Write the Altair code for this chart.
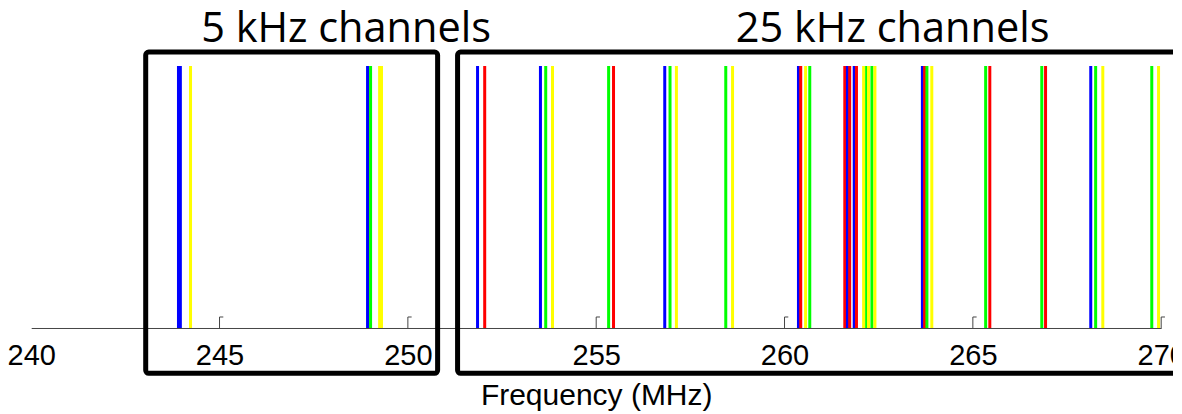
import altair as alt
import pandas as pd

# Channel frequencies (MHz) and their colour series
freqs = [243.91, 243.96, 244.23, 248.93, 249.01, 249.25, 249.30,
         251.85, 252.04,
         253.52, 253.66, 253.84,
         255.33, 255.46,
         256.82, 256.96, 257.13,
         258.44, 258.62,
         260.37, 260.43, 260.56, 260.67,
         261.60, 261.67, 261.73, 261.85, 261.91, 262.10, 262.18, 262.23, 262.32, 262.40,
         263.66, 263.72, 263.78, 263.91,
         265.34, 265.45,
         266.83, 266.93,
         268.13, 268.26, 268.45,
         269.75, 269.93]
series = ["blue", "blue", "yellow", "blue", "green", "yellow", "yellow",
          "blue", "red",
          "blue", "green", "yellow",
          "green", "red",
          "blue", "green", "yellow",
          "green", "yellow",
          "blue", "red", "yellow", "green",
          "red", "blue", "red", "blue", "red", "yellow", "green", "yellow", "green", "yellow",
          "blue", "red", "green", "yellow",
          "green", "red",
          "green", "red",
          "blue", "green", "yellow",
          "green", "yellow"]

tick_values = [240, 245, 250, 255, 260, 265, 270]
tick_marks = [245, 250, 255, 260, 265, 270]

# Channel groups (boxes) and their titles
group_names = ["5 kHz channels", "25 kHz channels"]
group_start = [243.04, 251.32]
group_end = [250.79, 272.0]
title_x = [248.36, 262.87]

series_domain = ["blue", "red", "green", "yellow"]
series_range = ["#0000FF", "#FF0000", "#00FF00", "#FFFF00"]

lines_df = pd.DataFrame({"freq": freqs, "series": series,
                         "order": list(range(len(freqs)))})
ticks_df = pd.DataFrame({"t": tick_marks})
groups_df = pd.DataFrame({"name": group_names, "x0": group_start,
                          "x1": group_end, "tx": title_x})

xscale = alt.Scale(domain=[240, 270], nice=False, zero=False)
yscale = alt.Scale(domain=[0, 1], nice=False, zero=False)
xaxis = alt.Axis(values=tick_values, ticks=False, grid=False,
                 domain=True, domainColor="#444444", domainWidth=1,
                 labelFlush=False, labelOverlap=False,
                 labelFont="Liberation Sans", labelFontSize=29,
                 labelColor="#000000", labelPadding=14,
                 title="Frequency (MHz)", titleFont="Liberation Sans",
                 titleFontSize=30, titleFontWeight="normal",
                 titleColor="#000000", titlePadding=10)


def xenc(field):
    return alt.X(field, scale=xscale, axis=xaxis, title="Frequency (MHz)")


lines = alt.Chart(lines_df).mark_rule(strokeWidth=3).encode(
    x=xenc("freq:Q"),
    y=alt.Y("y0:Q", scale=yscale, axis=None),
    y2="y1:Q",
    color=alt.Color("series:N", scale=alt.Scale(domain=series_domain,
                                                range=series_range),
                    legend=None),
    order="order:Q",
).transform_calculate(y0="0", y1="1")

tick_v = alt.Chart(ticks_df).mark_rule(color="#444444", strokeWidth=1).encode(
    x=xenc("t:Q"),
    y=alt.Y("y0:Q", scale=yscale, axis=None),
    y2="y1:Q",
).transform_calculate(y0="0", y1="0.042")

tick_f = alt.Chart(ticks_df).mark_rule(color="#444444", strokeWidth=1).encode(
    x=xenc("t:Q"),
    x2="t2:Q",
    y=alt.Y("y0:Q", scale=yscale, axis=None),
).transform_calculate(t2="datum.t + 0.1", y0="0.042")

boxes = alt.Chart(groups_df).mark_rect(fill=None, stroke="#000000",
                                       strokeWidth=5, cornerRadius=3,
                                       clip=False).encode(
    x=xenc("x0:Q"),
    x2="x1:Q",
    y=alt.Y("yb:Q", scale=yscale, axis=None),
    y2="yt:Q",
).transform_calculate(yb="-0.173", yt="1.053")

titles = alt.Chart(groups_df).mark_text(font="Open Sans", fontSize=41.5,
                                        color="#000000", baseline="alphabetic",
                                        align="center").encode(
    x=xenc("tx:Q"),
    y=alt.Y("ty:Q", scale=yscale, axis=None),
    text="name:N",
).transform_calculate(ty="1.093")

chart = alt.layer(lines, tick_v, tick_f, boxes, titles).properties(
    width=1130, height=262,
    padding={"left": 23.2, "top": 58, "right": 12, "bottom": 90},
    autosize=alt.AutoSizeParams(type="none"),
).configure_view(stroke=None)

chart.save("out.html", embed_options={"renderer": "svg", "actions": False})
